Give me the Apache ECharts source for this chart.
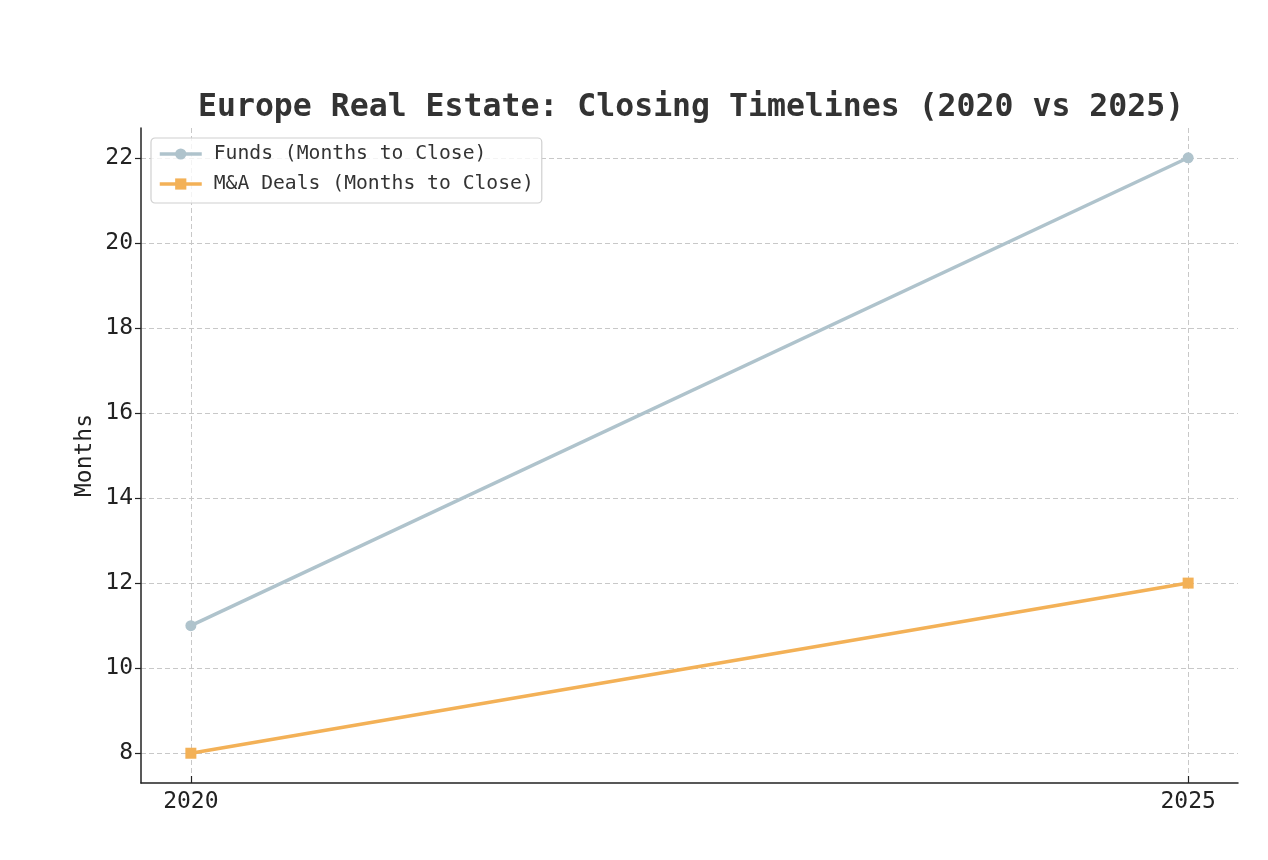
<!DOCTYPE html>
<html>
<head>
<meta charset="utf-8">
<script src="https://cdn.jsdelivr.net/npm/echarts@6/dist/echarts.min.js"></script>
<style>html,body{margin:0;padding:0;background:#fff}#c{width:1268px;height:860px}</style>
</head>
<body>
<div id="c"></div>
<script>
const years = [2020, 2025];
const fundsMonths = [11, 22];
const maMonths = [8, 12];
const yTicks = [8, 10, 12, 14, 16, 18, 20, 22];
const seriesNames = ['Funds (Months to Close)', 'M&A Deals (Months to Close)'];
const titleText = 'Europe Real Estate: Closing Timelines (2020 vs 2025)';

const FONT = "'DejaVu Sans Mono', monospace";
const chart = echarts.init(document.getElementById('c'), null, {renderer: 'canvas'});
const gridLine = {show: true, lineStyle: {color: '#c8c8c8', width: 1, type: [5, 3]}};

chart.setOption({
  backgroundColor: '#fff',
  animation: false,
  title: {
    text: titleText,
    left: 193,
    top: 87,
    textStyle: {fontFamily: FONT, fontWeight: 'bold', fontSize: 31.5, color: '#333'}
  },
  grid: {left: 141, right: 30, top: 128, bottom: 77, containLabel: false},
  legend: {
    orient: 'vertical',
    left: 151, top: 138,
    padding: [5, 8, 8, 7],
    itemWidth: 42, itemHeight: 14,
    itemGap: 8,
    borderColor: '#d0d0d0', borderWidth: 1.2, borderRadius: 4,
    backgroundColor: 'rgba(255,255,255,0.8)',
    lineStyle: {width: 3.5},
    textStyle: {fontFamily: FONT, fontSize: 19.7, color: '#333', lineHeight: 22, padding: [0, 0, 0, 7]},
    data: seriesNames
  },
  xAxis: {
    type: 'value', min: 2019.75, max: 2025.25,
    axisLine: {show: true, onZero: false, lineStyle: {color: '#222', width: 1.5}},
    axisTick: {show: true, inside: true, length: 7, customValues: years, lineStyle: {color: '#222', width: 1.2}},
    axisLabel: {customValues: years, fontFamily: FONT, fontSize: 23, color: '#222', margin: 8, formatter: v => String(v)},
    splitLine: gridLine
  },
  yAxis: {
    type: 'value', min: 7.3, max: 22.7,
    name: 'Months', nameLocation: 'middle', nameRotate: 90, nameGap: 44,
    nameMoveOverlap: false,
    nameTextStyle: {fontFamily: FONT, fontSize: 23, color: '#222'},
    axisLine: {show: true, onZero: false, lineStyle: {color: '#222', width: 1.5}},
    axisTick: {show: true, length: 6, customValues: yTicks, lineStyle: {color: '#222', width: 1.2}},
    axisLabel: {customValues: yTicks, fontFamily: FONT, fontSize: 23, color: '#222', margin: 8},
    splitLine: gridLine
  },
  series: [
    {
      name: seriesNames[0], type: 'line',
      data: years.map((y, i) => [y, fundsMonths[i]]),
      symbol: 'circle', symbolSize: 11,
      lineStyle: {color: '#afc3cc', width: 3.5},
      itemStyle: {color: '#afc3cc'}
    },
    {
      name: seriesNames[1], type: 'line',
      data: years.map((y, i) => [y, maMonths[i]]),
      symbol: 'rect', symbolSize: 11,
      lineStyle: {color: '#f3b157', width: 3.5},
      itemStyle: {color: '#f3b157'}
    }
  ]
});
</script>
</body>
</html>
